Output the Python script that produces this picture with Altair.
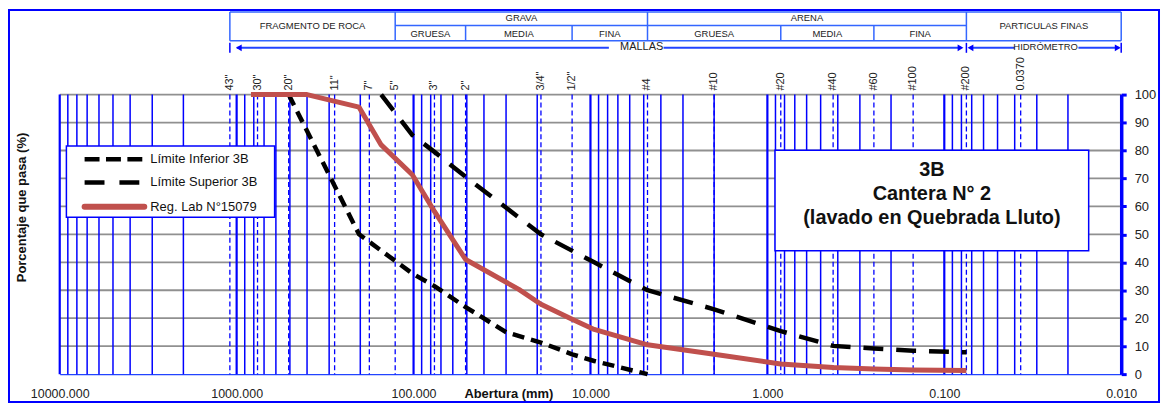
import math
import altair as alt
import pandas as pd

FONT = "Liberation Sans, Arial, Helvetica, sans-serif"

# ---------------- data ----------------
sieve_labels = ['43"', '30"', '20"', '11"', '7"', '5"', '3"', '2"', '3/4"', '1/2"',
                '#4', '#10', '#20', '#40', '#60', '#100', '#200', '0.0370']
sieve_mm = [1092.2, 762.0, 508.0, 279.4, 177.8, 127.0, 76.2, 50.8, 19.05, 12.7,
            4.76, 2.0, 0.84, 0.425, 0.25, 0.15, 0.075, 0.037]

lower_mm = [508.0, 203.2, 101.6, 76.2, 50.8, 30.0, 19.05, 12.7, 9.525, 4.76]
lower_pct = [100, 50, 36, 31.5, 24, 15, 11.3, 7.1, 4.7, 0]

upper_mm = [152.4, 101.6, 76.2, 50.8, 19.05, 9.525, 4.76, 2.0, 0.84, 0.425, 0.25, 0.15, 0.075]
upper_pct = [100, 85.5, 79.5, 70.6, 50, 40, 30, 23.2, 15.4, 10.1, 9.2, 8.4, 7.8]

lab_mm = [830, 400, 203.2, 152.4, 101.6, 76.2, 50.8, 25.4, 19.05, 12.7, 9.525,
          4.76, 2.0, 0.84, 0.425, 0.25, 0.15, 0.075]
lab_pct = [100, 100, 95.5, 82, 71.3, 58.2, 41, 30.3, 25, 19.6, 16,
           10.5, 7.1, 3.6, 2.4, 1.8, 1.5, 1.3]

series_names = ["Límite Inferior 3B", "Límite Superior 3B", "Reg. Lab N°15079"]
note_lines = ["3B", "Cantera N° 2", "(lavado en Quebrada Lluto)"]

decade_mm = [0.01, 0.1, 1, 10, 100, 1000, 10000]
minor_mm = [k * 10.0 ** n for n in range(-2, 4) for k in range(2, 10)]
pct_ticks = list(range(0, 101, 10))
pct_grid = list(range(10, 101, 10))

zone_full = [1092.2, 127.0, 4.76, 0.075, 0.01]
zone_half = [50.8, 12.7, 0.84, 0.25]
group_names = ["GRAVA", "ARENA"]
group_a = [127.0, 4.76]
group_b = [4.76, 0.075]
span_names = ["FRAGMENTO DE ROCA", "PARTICULAS FINAS"]
span_a = [1092.2, 0.075]
span_b = [127.0, 0.01]
sub_names = ["GRUESA", "MEDIA", "FINA", "GRUESA", "MEDIA", "FINA"]
sub_a = [127.0, 50.8, 12.7, 4.76, 0.84, 0.25]
sub_b = [50.8, 12.7, 4.76, 0.84, 0.25, 0.075]

# ---------------- layout helpers ----------------
PW, PH = 1067, 281


def px(page_x):
    return page_x - 60


def py(page_y):
    return page_y - 94


xscale = alt.Scale(type="log", domain=[0.01, 10000], reverse=True, nice=False)
yscale = alt.Scale(domain=[0, 100], nice=False)
xaxis = alt.Axis(values=decade_mm, format=".3f", title=None, grid=False, ticks=False,
                 tickSize=0, domainColor="#2244ff", domainWidth=1.5, labelFontSize=12.5,
                 labelFont=FONT, labelColor="#222222", labelPadding=19,
                 labelBaseline="middle", labelFlush=False, labelOverlap=False,
                 labelBound=False)
yaxis = alt.Axis(orient="right", values=pct_ticks, title=None, grid=False,
                 domainColor="#0000ff", domainWidth=3.5, tickColor="#0000ff",
                 tickWidth=3, tickSize=5, labelFontSize=13, labelFont=FONT,
                 labelColor="#222222", labelPadding=8)


def X(f):
    return alt.X(f"{f}:Q", scale=xscale, axis=xaxis)


def Y(f):
    return alt.Y(f"{f}:Q", scale=yscale, axis=yaxis)


one = pd.DataFrame({"k": [0]})
BLUE = "#0000ff"
TBL = "#3366ff"

layers = []

# horizontal grid
layers.append(alt.Chart(pd.DataFrame({"pct": pct_grid})).mark_rule(
    color="#909090", strokeWidth=1.8).encode(
    y=Y("pct"), x=alt.value(0), x2=alt.value(PW)))

# vertical grid
layers.append(alt.Chart(pd.DataFrame({"mm": minor_mm})).mark_rule(
    color=BLUE, strokeWidth=1.5).encode(x=X("mm"), y=alt.value(0), y2=alt.value(PH)))
layers.append(alt.Chart(pd.DataFrame({"mm": decade_mm})).mark_rule(
    color=BLUE, strokeWidth=2.2).encode(x=X("mm"), y=alt.value(0), y2=alt.value(PH)))
layers.append(alt.Chart(pd.DataFrame({"mm": sieve_mm})).mark_rule(
    color=BLUE, strokeWidth=1.3, strokeDash=[5, 3]).encode(
    x=X("mm"), y=alt.value(0), y2=alt.value(PH)))

# curves
layers.append(alt.Chart(pd.DataFrame({"mm": lower_mm, "pct": lower_pct})).mark_line(
    color="black", strokeWidth=4.5, strokeDash=[12, 7]).encode(x=X("mm"), y=Y("pct")))
layers.append(alt.Chart(pd.DataFrame({"mm": upper_mm, "pct": upper_pct})).mark_line(
    color="black", strokeWidth=4.5, strokeDash=[20, 13]).encode(x=X("mm"), y=Y("pct")))
layers.append(alt.Chart(pd.DataFrame({"mm": lab_mm, "pct": lab_pct})).mark_line(
    color="#c0504d", strokeWidth=5, strokeJoin="round").encode(x=X("mm"), y=Y("pct")))

# legend
layers.append(alt.Chart(one).mark_rect(fill="white", stroke=BLUE, strokeWidth=1.5).encode(
    x=alt.value(px(66.7)), x2=alt.value(px(276)), y=alt.value(py(145.7)), y2=alt.value(py(217.3))))
leg_y = [159, 182.3, 206.7]
leg_dash = [[15, 6.5], [20, 15], None]
leg_color = ["black", "black", "#c0504d"]
leg_w = [4.5, 4.5, 6]
for i in range(3):
    kw = dict(color=leg_color[i], strokeWidth=leg_w[i])
    if leg_dash[i] is not None:
        kw["strokeDash"] = leg_dash[i]
    else:
        kw["strokeCap"] = "round"
    layers.append(alt.Chart(one).mark_rule(**kw).encode(
        x=alt.value(px(85)), x2=alt.value(px(145)), y=alt.value(py(leg_y[i]))))
    layers.append(alt.Chart(pd.DataFrame({"t": [series_names[i]]})).mark_text(
        align="left", baseline="middle", fontSize=13, font=FONT, color="#111111").encode(
        x=alt.value(px(151)), y=alt.value(py(leg_y[i])), text="t:N"))

# annotation box
layers.append(alt.Chart(one).mark_rect(fill="white", stroke=BLUE, strokeWidth=1.5).encode(
    x=alt.value(px(779)), x2=alt.value(px(1094.3)), y=alt.value(py(150)), y2=alt.value(py(251))))
note_y = [170, 194.3, 217.7]
for i in range(3):
    layers.append(alt.Chart(pd.DataFrame({"t": [note_lines[i]]})).mark_text(
        align="center", baseline="middle", fontSize=20, fontWeight="bold", font=FONT,
        color="#111111").encode(x=alt.value(px(936.7)), y=alt.value(py(note_y[i])), text="t:N"))

# sieve labels on top
layers.append(alt.Chart(pd.DataFrame({"mm": sieve_mm, "lbl": sieve_labels})).mark_text(
    angle=270, align="left", baseline="middle", fontSize=11, font=FONT, color="#222222").encode(
    x=X("mm"), y=alt.value(py(90)), text="lbl:N"))

# header table
TOP, MID, BOT = 11, 24.5, 40
layers.append(alt.Chart(pd.DataFrame({"a": [1092.2], "b": [0.01]})).mark_rule(
    color=TBL, strokeWidth=1.5).encode(x=X("a"), x2=alt.X2("b"), y=alt.value(py(TOP))))
layers.append(alt.Chart(pd.DataFrame({"a": [1092.2], "b": [0.01]})).mark_rule(
    color=TBL, strokeWidth=1.5).encode(x=X("a"), x2=alt.X2("b"), y=alt.value(py(BOT))))
layers.append(alt.Chart(pd.DataFrame({"a": [127.0], "b": [0.075]})).mark_rule(
    color=TBL, strokeWidth=1.5).encode(x=X("a"), x2=alt.X2("b"), y=alt.value(py(MID))))
layers.append(alt.Chart(pd.DataFrame({"mm": zone_full})).mark_rule(
    color=TBL, strokeWidth=1.5).encode(x=X("mm"), y=alt.value(py(TOP)), y2=alt.value(py(BOT))))
layers.append(alt.Chart(pd.DataFrame({"mm": zone_half})).mark_rule(
    color=TBL, strokeWidth=1.5).encode(x=X("mm"), y=alt.value(py(MID)), y2=alt.value(py(BOT))))

hdr_text = dict(align="center", baseline="middle", fontSize=9.5, font=FONT, color="#222222")
layers.append(alt.Chart(pd.DataFrame({
    "mid": [math.sqrt(a * b) for a, b in zip(group_a, group_b)], "t": group_names})).mark_text(
    **hdr_text).encode(x=X("mid"), y=alt.value(py(17.5)), text="t:N"))
layers.append(alt.Chart(pd.DataFrame({
    "mid": [math.sqrt(a * b) for a, b in zip(span_a, span_b)], "t": span_names})).mark_text(
    **hdr_text).encode(x=X("mid"), y=alt.value(py(25)), text="t:N"))
layers.append(alt.Chart(pd.DataFrame({
    "mid": [math.sqrt(a * b) for a, b in zip(sub_a, sub_b)], "t": sub_names})).mark_text(
    **hdr_text).encode(x=X("mid"), y=alt.value(py(32.7)), text="t:N"))

# MALLAS / HIDROMETRO arrows
ARW = 47
layers.append(alt.Chart(pd.DataFrame({"mm": [1092.2, 0.075, 0.01]})).mark_rule(
    color=BLUE, strokeWidth=1.5).encode(x=X("mm"), y=alt.value(py(42)), y2=alt.value(py(52))))
seg_a = [238, 667, 975, 1084]
seg_b = [612, 966, 1020, 1125]
for a, b in zip(seg_a, seg_b):
    layers.append(alt.Chart(one).mark_rule(color="#2244ff", strokeWidth=2).encode(
        x=alt.value(px(a)), x2=alt.value(px(b)), y=alt.value(py(ARW))))
arrow_x = [240, 965.5, 975.5, 1123.5]
arrow_shape = ["triangle-left", "triangle-right", "triangle-left", "triangle-right"]
for ax_, sh in zip(arrow_x, arrow_shape):
    layers.append(alt.Chart(one).mark_point(shape=sh, filled=True, size=45, color=BLUE,
                                            opacity=1).encode(
        x=alt.value(px(ax_)), y=alt.value(py(ARW))))
layers.append(alt.Chart(pd.DataFrame({"t": ["MALLAS"]})).mark_text(
    align="center", baseline="middle", fontSize=11, font=FONT, color="#222222").encode(
    x=alt.value(px(645)), y=alt.value(py(ARW - 0.5)), text="t:N"))
layers.append(alt.Chart(pd.DataFrame({"t": ["HIDRÓMETRO"]})).mark_text(
    align="center", baseline="middle", fontSize=9.5, font=FONT, color="#222222").encode(
    x=alt.value(px(1051)), y=alt.value(py(ARW - 0.5)), text="t:N"))

# axis titles
layers.append(alt.Chart(pd.DataFrame({"t": ["Porcentaje que pasa (%)"]})).mark_text(
    angle=270, align="center", baseline="middle", fontSize=13, fontWeight="bold", font=FONT,
    color="#111111").encode(x=alt.value(px(22)), y=alt.value(py(207.5)), text="t:N"))
layers.append(alt.Chart(pd.DataFrame({"t": ["Abertura (mm)"]})).mark_text(
    align="center", baseline="middle", fontSize=13, fontWeight="bold", font=FONT,
    color="#111111").encode(x=alt.value(px(511.5)), y=alt.value(py(394.5)), text="t:N"))

# outer frame
layers.append(alt.Chart(one).mark_rect(fillOpacity=0, stroke=BLUE, strokeWidth=2).encode(
    x=alt.value(px(9)), x2=alt.value(px(1165)), y=alt.value(py(9)), y2=alt.value(py(403))))

chart = alt.layer(*layers).properties(
    width=PW, height=PH,
    padding={"left": 52, "top": 86, "right": 40, "bottom": 29},
    autosize=alt.AutoSizeParams(type="none"),
    background="white",
).configure_view(stroke=None)

chart.save("out.html", embed_options={"renderer": "svg", "actions": False})
